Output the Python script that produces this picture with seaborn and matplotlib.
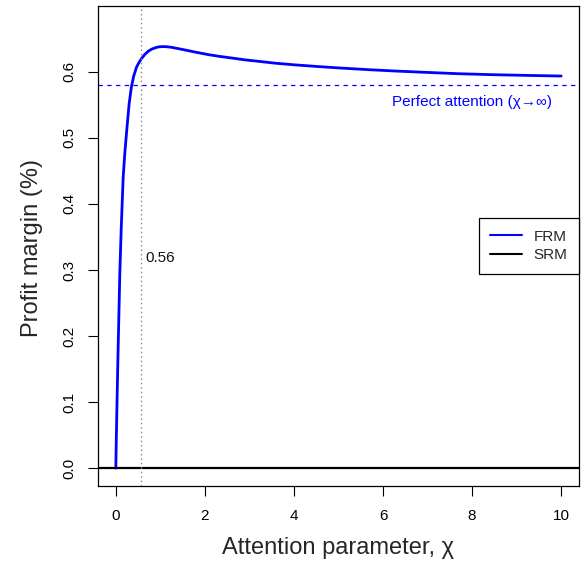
import matplotlib
matplotlib.use("Agg")
import matplotlib.pyplot as plt
import seaborn as sns
import pandas as pd
from matplotlib.lines import Line2D

# ---- data ----
chi = [0, 0.01, 0.02, 0.03, 0.05, 0.07, 0.09, 0.12, 0.165, 0.2, 0.25, 0.3,
       0.35, 0.4, 0.465, 0.52, 0.577, 0.65, 0.727, 0.8, 0.876, 0.95, 1.03,
       1.12, 1.25, 1.4, 1.55, 1.8, 2.07, 2.3, 2.6, 2.9, 3.2, 3.57, 4.0, 4.51,
       5.0, 5.71, 6.3, 6.98, 7.7, 8.48, 9.2, 10]
frm = [0.0, 0.04, 0.075, 0.11, 0.175, 0.235, 0.295, 0.36, 0.44, 0.475, 0.515,
       0.552, 0.577, 0.593, 0.607, 0.614, 0.620, 0.626, 0.631, 0.634, 0.636,
       0.6375, 0.638, 0.638, 0.637, 0.635, 0.633, 0.6295, 0.626, 0.6235,
       0.6208, 0.618, 0.6158, 0.613, 0.6105, 0.608, 0.6058, 0.603, 0.601,
       0.599, 0.597, 0.5955, 0.5945, 0.5935]
srm_level = 0.0
perfect_attention = 0.58
chi_threshold = 0.56
x_ticks = [0, 2, 4, 6, 8, 10]
y_ticks = [0.0, 0.1, 0.2, 0.3, 0.4, 0.5, 0.6]
y_tick_labels = ["0.0", "0.1", "0.2", "0.3", "0.4", "0.5", "0.6"]
series_names = ["FRM", "SRM"]

sns.set_theme(style="white")
plt.rcParams["font.family"] = ["Liberation Sans", "DejaVu Sans"]

fig = plt.figure(figsize=(5.85, 5.63), dpi=100)
ax = fig.add_axes([98 / 585, 1 - 486 / 563, 481 / 585, 480 / 563])

df = pd.DataFrame({"chi": chi, "frm": frm})
sns.lineplot(data=df, x="chi", y="frm", ax=ax, color="#0000FF", lw=2.0,
             estimator=None, sort=False)
ax.axhline(srm_level, color="black", lw=1.6)
ax.axhline(perfect_attention, color="#0000FF", lw=0.9, ls=(0, (3.5, 3.5)))
ax.axvline(chi_threshold, color="#888888", lw=1.0, ls=(0, (1, 2.2)))

ax.text(8, perfect_attention - 0.0255, "Perfect attention (χ→∞)", color="#0000FF",
        ha="center", va="center", fontsize=11)
ax.text(chi_threshold + 0.11, 0.318, "0.56", ha="left", va="center", fontsize=11,
        color="#111111")

ax.set_xlim(-0.4, 10.4)
ax.set_ylim(-0.027, 0.6995)
ax.set_xticks(x_ticks)
ax.set_xticklabels([str(v) for v in x_ticks], fontsize=11)
ax.set_yticks(y_ticks)
ax.set_yticklabels(y_tick_labels, fontsize=11, rotation=90, va="center")
ax.tick_params(axis="both", direction="out", length=7.2, width=0.8, color="black",
               labelcolor="black", bottom=True, left=True)
ax.tick_params(axis="x", pad=9.5)
ax.tick_params(axis="y", pad=8.2)
for s in ax.spines.values():
    s.set_visible(True)
    s.set_color("black")
    s.set_linewidth(0.9)

ax.set_xlabel("Attention parameter, χ", fontsize=17, va="center")
ax.set_ylabel("Profit margin (%)", fontsize=17, va="center")
ax.xaxis.set_label_coords(0.5, (486 - 548) / 480)
ax.yaxis.set_label_coords((32 - 98) / 481, (486 - 248) / 480)

handles = [Line2D([], [], color="#0000FF", lw=1.5),
           Line2D([], [], color="black", lw=1.5)]
leg = ax.legend(handles, series_names, loc="center right", fontsize=11,
                frameon=True, fancybox=False, edgecolor="black", framealpha=1,
                borderaxespad=0, borderpad=0.75, handlelength=2.1,
                handletextpad=0.75, labelspacing=0.3)
leg.get_frame().set_linewidth(0.9)

fig.savefig("out.png", dpi=100)
